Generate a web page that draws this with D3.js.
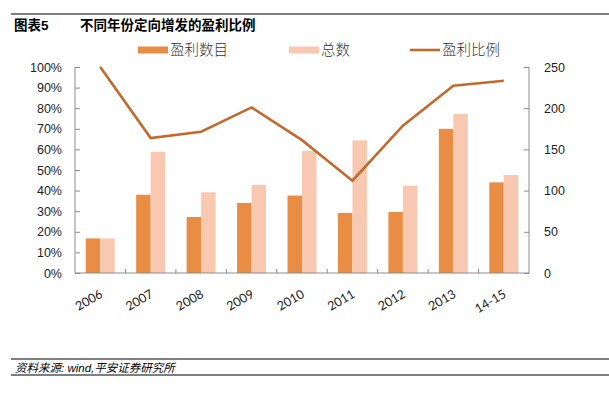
<!DOCTYPE html>
<html>
<head>
<meta charset="utf-8">
<script src="https://cdn.jsdelivr.net/npm/d3@7"></script>
<style>
  body { margin: 0; background: #fff; }
  svg { display: block; font-family: Lato, "Noto Sans CJK SC", sans-serif; }
  .axis path, .axis line { stroke: #8c8c8c; }
  .axis text { fill: #222; font-size: 12.5px; }
</style>
</head>
<body>
<div id="chart"></div>
<script>
var width = 609,
    height = 398;

var years = ["2006", "2007", "2008", "2009", "2010", "2011", "2012", "2013", "14-15"];
var profitCount = [42, 95, 68, 85, 94, 73, 74, 175, 110];
var totalCount = [42, 147, 98, 107, 148, 161, 106, 193, 119];
var profitRatio = [1.00, 0.655, 0.686, 0.804, 0.645, 0.448, 0.715, 0.909, 0.933];
var leftTicks = [0, 0.1, 0.2, 0.3, 0.4, 0.5, 0.6, 0.7, 0.8, 0.9, 1.0];
var rightTicks = [0, 50, 100, 150, 200, 250];
var seriesNames = ["盈利数目", "总数", "盈利比例"];

var dark = "#e88d43", light = "#f8c9b0", lineColor = "#c26a2c";

var margin = {left: 75, right: 80, top: 67, bottom: 125};

var x = d3.scaleBand()
    .domain(years)
    .range([margin.left, width - margin.right]);

var x1 = d3.scaleBand()
    .domain([0, 1])
    .range([0, x.bandwidth()])
    .paddingInner(0)
    .paddingOuter(0.74);

var yL = d3.scaleLinear()
    .domain([0, 1])
    .range([height - margin.bottom, margin.top]);

var yR = d3.scaleLinear()
    .domain([0, 250])
    .range([height - margin.bottom, margin.top]);

var svg = d3.select("#chart").append("svg")
    .attr("width", width)
    .attr("height", height);

// header
svg.append("line")
    .attr("x1", 11).attr("x2", width).attr("y1", 14).attr("y2", 14)
    .attr("stroke", "#000").attr("stroke-width", 1.2);
svg.append("text")
    .attr("x", 14).attr("y", 30)
    .attr("font-size", 13.5).attr("font-weight", "bold")
    .attr("font-family", "'Liberation Sans', 'Noto Sans CJK SC', sans-serif")
    .text("图表5");
svg.append("text")
    .attr("x", 80).attr("y", 30)
    .attr("font-size", 13.5).attr("font-weight", "bold")
    .attr("font-family", "'Noto Sans CJK SC', sans-serif")
    .text("不同年份定向增发的盈利比例");

// bars
var groups = svg.append("g").selectAll("g")
    .data(years)
    .enter().append("g")
    .attr("transform", function(d) { return "translate(" + x(d) + ",0)"; });

groups.append("rect")
    .attr("x", x1(0))
    .attr("width", x1.bandwidth())
    .attr("y", function(d, i) { return yR(profitCount[i]); })
    .attr("height", function(d, i) { return yR(0) - yR(profitCount[i]); })
    .attr("fill", dark);

groups.append("rect")
    .attr("x", x1(1))
    .attr("width", x1.bandwidth())
    .attr("y", function(d, i) { return yR(totalCount[i]); })
    .attr("height", function(d, i) { return yR(0) - yR(totalCount[i]); })
    .attr("fill", light);

// axes
svg.append("g")
    .attr("class", "axis")
    .attr("transform", "translate(" + margin.left + ",0)")
    .call(d3.axisLeft(yL).tickValues(leftTicks).tickFormat(d3.format(".0%")).tickSizeInner(-5).tickSizeOuter(0).tickPadding(13))
    .call(function(g) { g.select(".domain").remove(); })
    .call(function(g) {
      g.append("line").attr("x1", 0).attr("x2", 0)
        .attr("y1", yL(0)).attr("y2", yL(1)).attr("stroke", "#8c8c8c");
    });

svg.append("g")
    .attr("class", "axis")
    .attr("transform", "translate(" + (width - margin.right) + ",0)")
    .call(d3.axisRight(yR).tickValues(rightTicks).tickSizeInner(-5).tickSizeOuter(0).tickPadding(15))
    .call(function(g) { g.select(".domain").remove(); })
    .call(function(g) {
      g.append("line").attr("x1", 0).attr("x2", 0)
        .attr("y1", yR(0)).attr("y2", yR(250)).attr("stroke", "#8c8c8c");
    });

var xAxis = svg.append("g")
    .attr("class", "axis")
    .attr("transform", "translate(0," + (height - margin.bottom) + ")");
xAxis.append("line")
    .attr("x1", margin.left).attr("x2", width - margin.right)
    .attr("stroke", "#8c8c8c");
xAxis.selectAll(".bound")
    .data(years.slice(1))
    .enter().append("line")
    .attr("x1", function(d) { return x(d); })
    .attr("x2", function(d) { return x(d); })
    .attr("y1", 0).attr("y2", -4)
    .attr("stroke", "#8c8c8c");
xAxis.selectAll(".lab")
    .data(years)
    .enter().append("text")
    .attr("text-anchor", "end")
    .attr("font-size", 13)
    .attr("fill", "#222")
    .attr("transform", function(d) {
      return "translate(" + (x(d) + x.bandwidth() / 2 - 1) + ",16) rotate(-30)";
    })
    .attr("dy", "0.7em")
    .text(function(d) { return d; });

// ratio line
var line = d3.line()
    .x(function(d, i) { return x(years[i]) + x.bandwidth() / 2; })
    .y(function(d) { return yL(d); });

svg.append("path")
    .datum(profitRatio)
    .attr("fill", "none")
    .attr("stroke", lineColor)
    .attr("stroke-width", 2.6)
    .attr("d", line);

// legend
var legend = [
  {name: seriesNames[0], x: 138, type: "rect", color: dark},
  {name: seriesNames[1], x: 289, type: "rect", color: light},
  {name: seriesNames[2], x: 410, type: "line", color: lineColor}
];
var lg = svg.append("g").selectAll("g")
    .data(legend)
    .enter().append("g")
    .attr("transform", function(d) { return "translate(" + d.x + ",50)"; });
lg.filter(function(d) { return d.type === "rect"; })
    .append("rect")
    .attr("x", 0).attr("y", -3.5).attr("width", 30).attr("height", 7)
    .attr("fill", function(d) { return d.color; });
lg.filter(function(d) { return d.type === "line"; })
    .append("line")
    .attr("x1", 0).attr("x2", 30).attr("y1", 0).attr("y2", 0)
    .attr("stroke", function(d) { return d.color; })
    .attr("stroke-width", 2.6);
lg.append("text")
    .attr("x", 32).attr("dy", "0.36em")
    .attr("font-size", 14.5)
    .attr("font-family", "'Noto Sans CJK SC', sans-serif")
    .attr("font-weight", 300)
    .attr("fill", "#333")
    .text(function(d) { return d.name; });

// source
svg.append("line")
    .attr("x1", 11).attr("x2", width).attr("y1", 359).attr("y2", 359)
    .attr("stroke", "#000").attr("stroke-width", 1.2);
svg.append("line")
    .attr("x1", 11).attr("x2", width).attr("y1", 375).attr("y2", 375)
    .attr("stroke", "#000").attr("stroke-width", 1.2);
svg.append("text")
    .attr("x", 15).attr("y", 371.5)
    .attr("font-size", 11.5)
    .attr("font-style", "italic")
    .attr("font-family", "'Liberation Sans', 'Noto Sans CJK SC', sans-serif")
    .text("资料来源: wind,平安证券研究所");
</script>
</body>
</html>
